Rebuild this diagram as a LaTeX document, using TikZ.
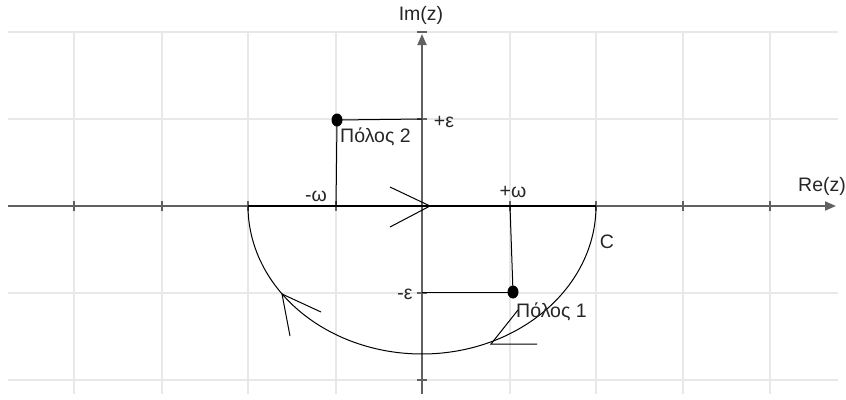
\documentclass[tikz,border=0pt]{standalone}
\usepackage{fontspec}
\setmainfont{Liberation Sans}
\usetikzlibrary{arrows.meta,shapes.geometric}
\begin{document}
\begin{tikzpicture}[x=1pt,y=-1pt,
  gridline/.style={draw=black!9,line width=1.6pt},
  axisline/.style={draw=black!62,line width=1.8pt},
  tickline/.style={draw=black!62,line width=1.6pt},
  contour/.style={draw=black,line width=1pt},
  thin/.style={draw=black,line width=1pt},
  poledot/.style={ellipse,fill=black,inner sep=0pt,minimum width=11pt,minimum height=13pt},
  lbl/.style={font=\fontsize{19.5}{22}\selectfont,text=black!85,inner sep=0pt},
]
\useasboundingbox (0,0) rectangle (846,399);
% grid
\foreach \yy in {32,119,293,380} \draw[gridline] (8,\yy) -- (838,\yy);
\foreach \xx in {74,162,248,336,510,596,683,770} \draw[gridline] (\xx,32) -- (\xx,394);
% axes
\coordinate (xl) at (8,206);
\coordinate (xr) at (836,206);
\coordinate (yb) at (422,394);
\coordinate (yt) at (422,34);
\draw[axisline,-{Triangle[length=11pt,width=9pt]}] (xl) -- (xr);
\draw[axisline,-{Triangle[length=11pt,width=9pt]}] (yb) -- (yt);
\foreach \xx in {74,162,248,336,510,596,683,770} \draw[tickline] (\xx,201) -- (\xx,211);
\foreach \yy in {32,119,293,380} \draw[tickline] (417,\yy) -- (427,\yy);
% contour
\coordinate (A) at (248,206);
\coordinate (B) at (596,206);
\draw[black,line width=2.2pt] (A) -- (B);
\draw[contour] plot[domain=0:180,samples=90,smooth] ({422+174*cos(\x)},{206+148*sin(\x)});
% arrow chevrons
\draw[contour] (390,187) -- (430,206) -- (390,227);
\draw[contour] (321,312) -- (282,294) -- (290,336);
\draw[contour] (537,344) -- (491,344) -- (518,310);
% poles
\node[poledot] (p2) at (337,120) {};
\node[poledot] (p1) at (513,292) {};
\coordinate (ep) at (422,119);
\coordinate (mw) at (336,206);
\coordinate (em) at (422,292);
\coordinate (pw) at (510,206);
\draw[thin] (p2.center) -- (ep);
\draw[thin] (p2.center) -- (mw);
\draw[thin] (p1.center) -- (em);
\draw[thin] (p1.center) -- (pw);
% labels
\node[lbl] (im) at (421,15) {Im(z)};
\node[lbl] (re) at (822,186) {Re(z)};
\node[lbl] (epl) at (444,122) {+ε};
\node[lbl] (eml) at (405,294) {-ε};
\node[lbl] (mwl) at (316,196) {-ω};
\node[lbl] (pwl) at (513,192) {+ω};
\node[lbl,anchor=west] (n2) at (340,137) {Πόλος 2};
\node[lbl,anchor=west] (n1) at (516,312) {Πόλος 1};
\node[lbl] (c) at (607,242) {C};
\end{tikzpicture}
\end{document}
